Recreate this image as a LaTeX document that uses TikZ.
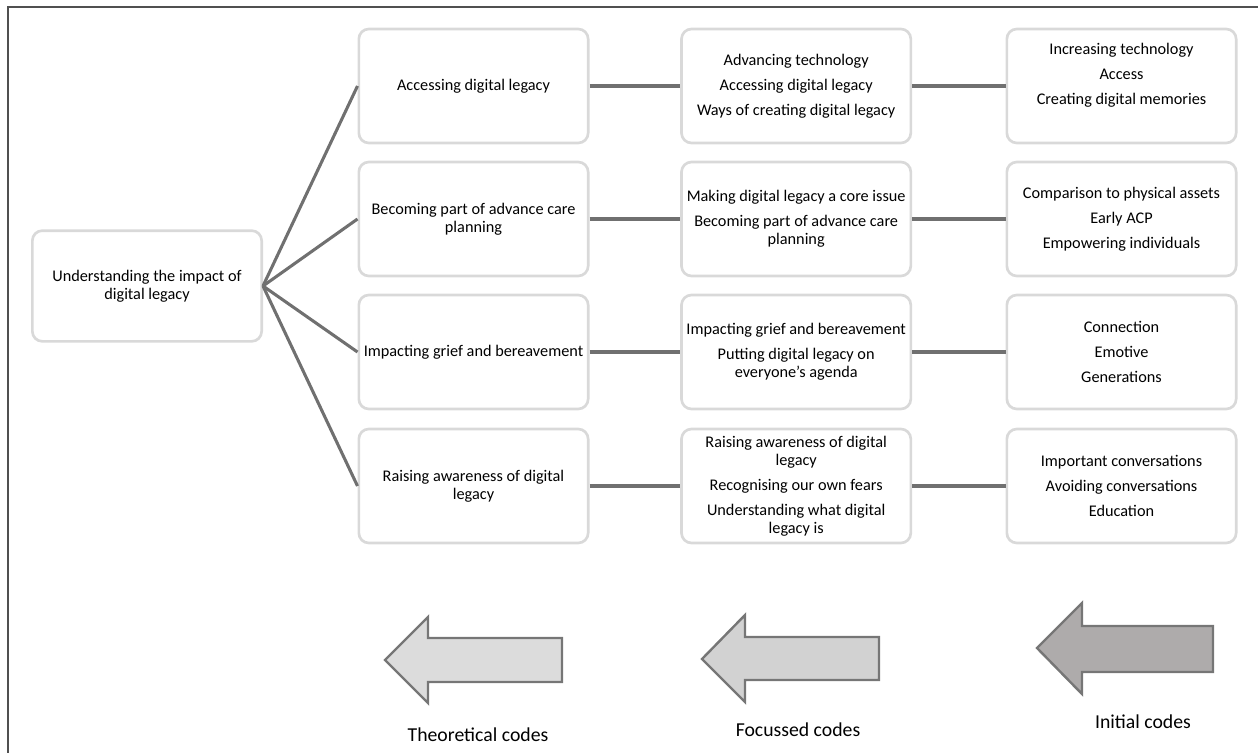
\documentclass[tikz,border=0pt]{standalone}
\usepackage{fontspec}
\setmainfont{Carlito}
\usetikzlibrary{positioning}
\definecolor{boxline}{HTML}{D9D9D9}
\definecolor{linkgray}{HTML}{707070}
\definecolor{framegray}{HTML}{505050}
\definecolor{arrowline}{HTML}{767676}
\definecolor{theofill}{HTML}{DCDCDC}
\definecolor{focfill}{HTML}{D2D2D2}
\definecolor{initfill}{HTML}{AEABAB}
\tikzset{
  x=0.75pt,
  y=-0.75pt,
  codebox/.style={draw=boxline, line width=2pt, rounded corners=7.5pt, fill=white,
    align=center, inner sep=2pt, minimum width=172pt, minimum height=85.5pt,
    font=\fontsize{12.2}{13.5}\selectfont},
  rootbox/.style={codebox, minimum height=83pt},
  link/.style={draw=linkgray, line width=2.3pt},
  codearrow/.style={draw=arrowline, line width=1.8pt, line join=miter},
  codelabel/.style={font=\fontsize{14.8}{17}\selectfont},
}

\begin{document}
\begin{tikzpicture}
  \useasboundingbox (0,0) rectangle (1258,753);
  \draw[framegray, line width=1.2pt] (1258,7) -| (8,753);

  % boxes
  \node[rootbox] (root) at (147,286) {Understanding the impact of\\digital legacy};

  \node[codebox] (t1) at (473.5,86) {Accessing digital legacy};
  \node[codebox] (t2) at (473.5,219) {Becoming part of advance care\\planning};
  \node[codebox] (t3) at (473.5,352) {Impacting grief and bereavement};
  \node[codebox] (t4) at (473.5,486) {Raising awareness of digital\\legacy};

  \node[codebox, right=68pt of t1] (f1) {Advancing technology\\[5.25pt]Accessing digital legacy\\[5.25pt]Ways of creating digital legacy};
  \node[codebox, right=68pt of t2] (f2) {Making digital legacy a core issue\\[5.25pt]Becoming part of advance care\\planning};
  \node[codebox, right=68pt of t3] (f3) {Impacting grief and bereavement\\[5.25pt]Putting digital legacy on\\everyone's agenda};
  \node[codebox, right=68pt of t4] (f4) {Raising awareness of digital\\legacy\\[5.25pt]Recognising our own fears\\[5.25pt]Understanding what digital\\legacy is};

  \node[codebox, right=70pt of f1] (i1) {Increasing technology\\[5.25pt]Access\\[5.25pt]Creating digital memories\\[5.25pt]\mbox{}};
  \node[codebox, right=70pt of f2] (i2) {Comparison to physical assets\\[5.25pt]Early ACP\\[5.25pt]Empowering individuals};
  \node[codebox, right=70pt of f3] (i3) {Connection\\[5.25pt]Emotive\\[5.25pt]Generations};
  \node[codebox, right=70pt of f4] (i4) {Important conversations\\[5.25pt]Avoiding conversations\\[5.25pt]Education};

  % links
  \draw[link] (root.east) -- (t1.west);
  \draw[link] (root.east) -- (t2.west);
  \draw[link] (root.east) -- (t3.west);
  \draw[link] (root.east) -- (t4.west);
  \draw[link] (t1) -- (f1) (f1) -- (i1);
  \draw[link] (t2) -- (f2) (f2) -- (i2);
  \draw[link] (t3) -- (f3) (f3) -- (i3);
  \draw[link] (t4) -- (f4) (f4) -- (i4);

  % arrows
  \draw[codearrow, fill=theofill] (385,660) -- (428,617) -- (428,638) -- (562,638)
    -- (562,682) -- (428,682) -- (428,703) -- cycle;
  \draw[codearrow, fill=focfill] (702,659) -- (745,615) -- (745,637) -- (879,637)
    -- (879,680) -- (745,680) -- (745,702) -- cycle;
  \draw[codearrow, fill=initfill] (1037,648) -- (1082,603) -- (1082,626) -- (1213,626)
    -- (1213,672) -- (1082,672) -- (1082,694) -- cycle;

  \node[codelabel] (theo) at (478,735) {Theoretical codes};
  \node[codelabel] (foc) at (798,730) {Focussed codes};
  \node[codelabel] (init) at (1143,722) {Initial codes};
\end{tikzpicture}
\end{document}
